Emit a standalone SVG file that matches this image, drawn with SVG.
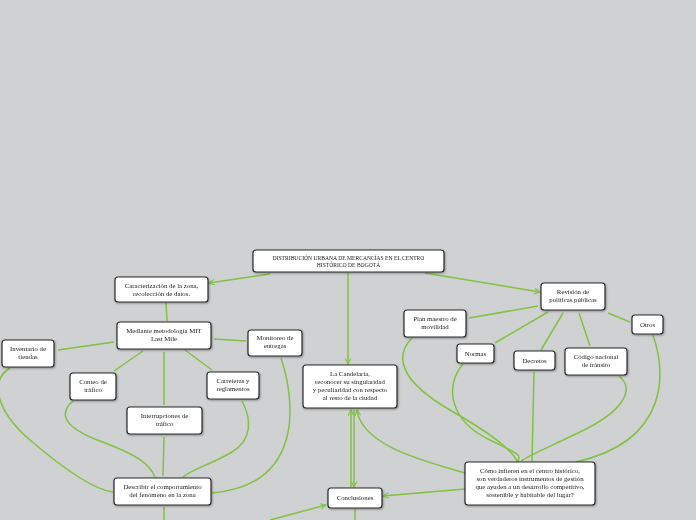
<svg xmlns="http://www.w3.org/2000/svg" width="696" height="520" viewBox="0 0 696 520">
<defs>
<style>
.n{fill:#fff;stroke:#2a2a2a;stroke-width:1.2}
.t{font-family:"Liberation Serif","DejaVu Serif",serif;font-size:6.8px;fill:#222;text-anchor:middle}
.tt{font-family:"Liberation Serif","DejaVu Serif",serif;font-size:5.6px;fill:#222;text-anchor:middle}
.c{fill:none;stroke:#80c241;stroke-width:1.5}
</style>
<marker id="a" viewBox="0 0 10 10" refX="9" refY="5" markerWidth="7" markerHeight="7" orient="auto-start-reverse" markerUnits="userSpaceOnUse">
<path d="M1 1 L9 5 L1 9" fill="none" stroke="#80c241" stroke-width="1.6"/>
</marker>
<filter id="s" x="-10%" y="-10%" width="130%" height="140%">
<feDropShadow dx="0.8" dy="1" stdDeviation="0.8" flood-color="#000" flood-opacity="0.35"/>
</filter>
</defs>
<rect width="696" height="520" fill="#d0d1d3"/>
<g id="connectors">
<path class="c" d="M270 274 L209 283" marker-end="url(#a)"/>
<path class="c" d="M348 273 L348 364" marker-end="url(#a)"/>
<path class="c" d="M425 273 L540 292" marker-end="url(#a)"/>
<path class="c" d="M166 303 L167 321"/>
<path class="c" d="M114 342 L58 350"/>
<path class="c" d="M214 339 L246 341"/>
<path class="c" d="M143 351 L114 371"/>
<path class="c" d="M185 350 L212 370"/>
<path class="c" d="M164 352 L164 405"/>
<path class="c" d="M10 368 C-10 380 -5 410 30 440 S95 490 113 492"/>
<path class="c" d="M73 401 C60 412 60 426 100 441 S150 465 155 477"/>
<path class="c" d="M242 401 C252 420 252 440 232 452 S190 470 183 477"/>
<path class="c" d="M164 437 L163 476"/>
<path class="c" d="M281 358 C295 400 305 485 212 493"/>
<path class="c" d="M164 507 L164 520"/>
<path class="c" d="M270 520 L326 505" marker-end="url(#a)"/>
<path class="c" d="M355 509 L355 520"/>
<path class="c" d="M351 487 L351 410" marker-end="url(#a)"/>
<path class="c" d="M354 410 L354 487" marker-end="url(#a)"/>
<path class="c" d="M465 473 C420 460 362 445 357 410" marker-end="url(#a)"/>
<path class="c" d="M465 489 L383 496" marker-end="url(#a)"/>
<path class="c" d="M538 306 L469 318"/>
<path class="c" d="M548 312 L495 343"/>
<path class="c" d="M563 313 L541 350"/>
<path class="c" d="M579 313 L590 346"/>
<path class="c" d="M608 313 L630 322"/>
<path class="c" d="M412 338 C395 355 398 380 450 410 S512 452 518 462"/>
<path class="c" d="M463 364 C445 385 448 420 490 440 S515 455 519 462"/>
<path class="c" d="M534 372 L532 461"/>
<path class="c" d="M619 376 C636 390 622 412 580 432 S530 455 521 461"/>
<path class="c" d="M653 335 C665 370 672 440 576 462"/>
</g>
<g id="title" filter="url(#s)"><rect class="n" x="253" y="250" width="191" height="22" rx="3"/>
<text class="tt" x="348.5" y="259.5">DISTRIBUCIÓN URBANA DE MERCANCÍAS EN EL CENTRO</text>
<text class="tt" x="348.5" y="266.5">HISTÓRICO DE BOGOTÁ</text></g>
<g id="caracterizacion" filter="url(#s)"><rect class="n" x="115" y="277" width="93" height="25" rx="3"/>
<text class="t" x="161.5" y="288">Caracterización de la zona,</text>
<text class="t" x="161.5" y="296">recolección de datos.</text></g>
<g id="mediante" filter="url(#s)"><rect class="n" x="117" y="322" width="94" height="27" rx="3"/>
<text class="t" x="164" y="333">Mediante metodología MIT</text>
<text class="t" x="164" y="341">Last Mile</text></g>
<g id="inventario" filter="url(#s)"><rect class="n" x="2" y="340" width="52" height="27" rx="3"/>
<text class="t" x="28" y="351">Inventario de</text>
<text class="t" x="28" y="359">tiendas</text></g>
<g id="monitoreo" filter="url(#s)"><rect class="n" x="248" y="330" width="54" height="26" rx="3"/>
<text class="t" x="275" y="340">Monitoreo de</text>
<text class="t" x="275" y="348">entregas</text></g>
<g id="conteo" filter="url(#s)"><rect class="n" x="70" y="373" width="46" height="27" rx="3"/>
<text class="t" x="93" y="384">Conteo de</text>
<text class="t" x="93" y="392">tráfico</text></g>
<g id="carreteras" filter="url(#s)"><rect class="n" x="207" y="372" width="52" height="27" rx="3"/>
<text class="t" x="233" y="383">Carreteras y</text>
<text class="t" x="233" y="391">reglamentos</text></g>
<g id="interrupciones" filter="url(#s)"><rect class="n" x="127" y="407" width="75" height="27" rx="3"/>
<text class="t" x="164.5" y="418">Interrupciones de</text>
<text class="t" x="164.5" y="426">tráfico</text></g>
<g id="describir" filter="url(#s)"><rect class="n" x="114" y="478" width="97" height="27" rx="3"/>
<text class="t" x="162.5" y="489">Describir el comportamiento</text>
<text class="t" x="162.5" y="497">del fenómeno en la zona</text></g>
<g id="candelaria" filter="url(#s)"><rect class="n" x="303" y="365" width="94" height="43" rx="3"/>
<text class="t" x="350" y="376">La Candelaria,</text>
<text class="t" x="350" y="384">reconocer su singularidad</text>
<text class="t" x="350" y="392">y peculiaridad con respecto</text>
<text class="t" x="350" y="400">al resto de la ciudad</text></g>
<g id="conclusiones" filter="url(#s)"><rect class="n" x="328" y="488" width="54" height="20" rx="3"/>
<text class="t" x="355" y="500">Conclusiones</text></g>
<g id="revision" filter="url(#s)"><rect class="n" x="541" y="283" width="64" height="27" rx="3"/>
<text class="t" x="573" y="294">Revisión de</text>
<text class="t" x="573" y="302">políticas públicas</text></g>
<g id="plan" filter="url(#s)"><rect class="n" x="404" y="310" width="62" height="27" rx="3"/>
<text class="t" x="435" y="321">Plan maestro de</text>
<text class="t" x="435" y="329">movilidad</text></g>
<g id="normas" filter="url(#s)"><rect class="n" x="457" y="344" width="37" height="19" rx="3"/>
<text class="t" x="475.5" y="356">Normas</text></g>
<g id="decretos" filter="url(#s)"><rect class="n" x="514" y="351" width="41" height="19" rx="3"/>
<text class="t" x="534.5" y="363">Decretos</text></g>
<g id="codigo" filter="url(#s)"><rect class="n" x="565" y="348" width="62" height="27" rx="3"/>
<text class="t" x="596" y="359">Código nacional</text>
<text class="t" x="596" y="367">de tránsito</text></g>
<g id="otros" filter="url(#s)"><rect class="n" x="632" y="315" width="31" height="19" rx="3"/>
<text class="t" x="647.5" y="327">Otros</text></g>
<g id="como" filter="url(#s)"><rect class="n" x="465" y="462" width="130" height="43" rx="3"/>
<text class="t" x="530" y="473">Cómo infieren en el centro histórico,</text>
<text class="t" x="530" y="481">son verdaderos instrumentos de gestión</text>
<text class="t" x="530" y="489">que ayuden a un desarrollo competitivo,</text>
<text class="t" x="530" y="497">sostenible y habitable del lugar?</text></g>
</svg>
